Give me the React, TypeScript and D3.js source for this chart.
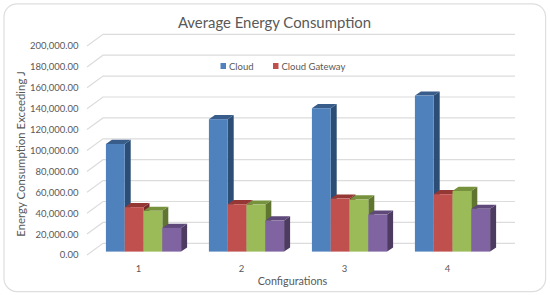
import React from 'react';
import { scaleBand, scaleLinear, format } from 'd3';

const width = 550;
const height = 295;
const font = 'Lato, "Open Sans", sans-serif';

const categories = ['1', '2', '3', '4'];
const seriesNames = ['Cloud', 'Cloud Gateway', 'Series 3', 'Series 4'];
const cloud = [103000, 126700, 137200, 149300];
const gateway = [42500, 45300, 50700, 54900];
const third = [39000, 45000, 49800, 58000];
const fourth = [22700, 29700, 35400, 40900];
const yTicks = [0, 20000, 40000, 60000, 80000, 100000, 120000, 140000, 160000, 180000, 200000];

const series = [cloud, gateway, third, fourth];
const fronts = ['#4f81bd', '#c0504d', '#9bbb59', '#8064a2'];
const tops = ['#385d8a', '#953735', '#76923c', '#5f497a'];
const sides = ['#2c4d75', '#772c2a', '#5f7530', '#4d3b62'];

// front edge of the floor, the back wall is shifted by wallX / wallY
const x0 = 87;
const x1 = 499;
const wallX = 16;
const wallY = -11.7;
// bars stand a little behind the front edge
const barLift = -3.4;
const depthX = 6;
const depthY = -4.2;

const xScale = scaleBand<string>()
  .domain(categories)
  .range([x0, x1])
  .paddingInner(0.27)
  .paddingOuter(0.135)
  .align(0.68);

const labelScale = scaleBand<string>().domain(categories).range([x0, x1]);

const seriesScale = scaleBand<number>()
  .domain(series.map((_, i) => i))
  .range([0, xScale.bandwidth()]);

const yScale = scaleLinear().domain([0, 200000]).range([255, 46]);
const tickFormat = format(',.2f');

export default function App() {
  return (
    <svg
      width={width}
      height={height}
      style={{ position: 'absolute', left: 0, top: 0, background: '#fff' }}
      fontFamily={font}
    >
      <rect x={4} y={3.8} width={541.6} height={287.8} rx={13} fill="#fff" stroke="#dedede" strokeWidth={1.2} />

      <text x={274.5} y={28} textAnchor="middle" fontSize={14.9} fill="#595959">
        Average Energy Consumption
      </text>

      {yTicks.map(tick => {
        const y = yScale(tick);
        return (
          <g key={tick}>
            <polyline
              points={`${x0},${y} ${x0 + wallX},${y + wallY} ${x1 + wallX},${y + wallY}`}
              fill="none"
              stroke="#dcdcdc"
              strokeWidth={1.2}
            />
            <text x={78.5} y={y + 3.4} textAnchor="end" fontSize={9.5} fill="#595959">
              {tickFormat(tick)}
            </text>
          </g>
        );
      })}

      {categories.map((cat, c) => (
        <g key={cat}>
          {series.map((values, s) => {
            const bx = (xScale(cat) as number) + (seriesScale(s) as number);
            const bw = seriesScale.bandwidth();
            const by = yScale(values[c]) + barLift;
            const base = yScale(0) + barLift;
            return (
              <g key={s}>
                <path
                  d={`M${bx + bw},${by} l${depthX},${depthY} L${bx + bw + depthX},${base + depthY} L${bx + bw},${base} Z`}
                  fill={sides[s]}
                />
                <path
                  d={`M${bx},${by} l${depthX},${depthY} h${bw} l${-depthX},${-depthY} Z`}
                  fill={tops[s]}
                />
                <rect x={bx} y={by} width={bw} height={base - by} fill={fronts[s]} />
              </g>
            );
          })}
          <text
            x={(labelScale(cat) as number) + labelScale.bandwidth() / 2}
            y={271.5}
            textAnchor="middle"
            fontSize={9.5}
            fill="#595959"
          >
            {cat}
          </text>
        </g>
      ))}

      <rect x={220.5} y={63} width={5.5} height={6} fill={fronts[0]} />
      <text x={229} y={69.5} fontSize={9.5} fill="#595959">{seriesNames[0]}</text>
      <rect x={273} y={63} width={5.5} height={6} fill={fronts[1]} />
      <text x={281.5} y={69.5} fontSize={9.5} fill="#595959">{seriesNames[1]}</text>

      <text x={292.5} y={285} textAnchor="middle" fontSize={10.8} fill="#595959">
        Configurations
      </text>
      <text
        transform="translate(25,154) rotate(-90)"
        textAnchor="middle"
        fontSize={11.4}
        fill="#595959"
      >
        Energy Consumption Exceeding J
      </text>
    </svg>
  );
}
